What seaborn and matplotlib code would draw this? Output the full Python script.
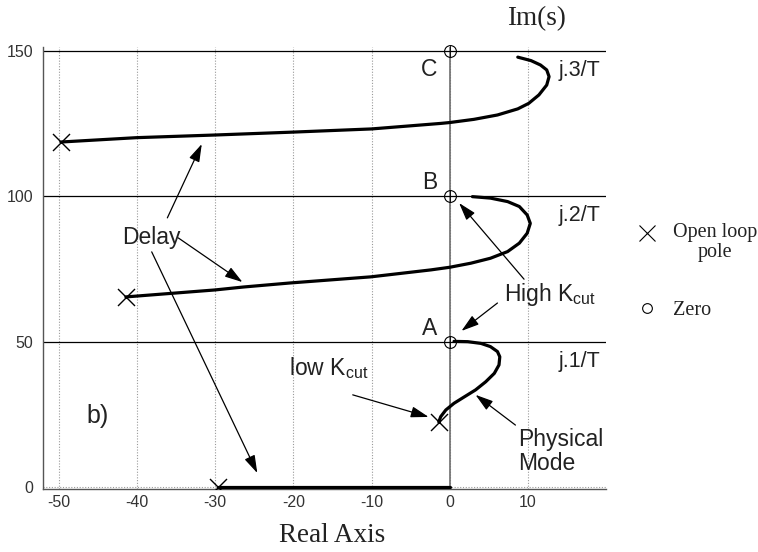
import matplotlib
matplotlib.use("Agg")
import matplotlib.pyplot as plt
import numpy as np
import pandas as pd
import seaborn as sns

# Root-locus branches (real part, imaginary part)
phys_re = [-1.4, -1.15, -0.5, 0.55, 1.8, 3.3, 4.6, 5.7, 6.3, 6.4, 6.1, 5.2, 4.0, 2.3, 0.55]
phys_im = [22.4, 24.2, 26.5, 28.8, 30.9, 33.4, 36.2, 39.1, 42.0, 44.8, 46.6, 48.3, 49.4, 50.0, 50.1]

delay2_re = [-41.4, -30.0, -26.4, -20.4, -10.1, -2.4, 0.0, 2.7, 5.2, 7.4, 8.9, 9.9, 10.3,
             9.9, 8.9, 7.4, 5.2, 2.9]
delay2_im = [65.4, 67.8, 68.8, 70.2, 72.3, 74.7, 75.6, 77.0, 78.7, 81.0, 83.9, 87.3, 90.7,
             93.6, 96.5, 98.2, 99.4, 99.9]

delay3_re = [-49.7, -40.0, -30.1, -20.1, -10.0, -1.15, 0.0, 3.1, 6.1, 8.7, 10.1, 11.4, 12.4,
             12.7, 12.4, 11.6, 10.4, 8.7]
delay3_im = [118.7, 120.2, 121.1, 122.1, 123.2, 125.1, 125.4, 126.5, 128.0, 130.1, 132.0,
             134.9, 138.3, 141.2, 143.5, 145.2, 146.7, 147.9]

delay1_re = [-29.6, 0.0]
delay1_im = [0.0, 0.0]

# Open-loop poles and zeros
pole_re = [-49.7, -41.4, -29.6, -1.4]
pole_im = [118.7, 65.4, 0.0, 22.4]
zero_re = [0.0, 0.0, 0.0]
zero_im = [50.0, 100.0, 150.0]

# Harmonic lines j.n/T
harm_im = [50, 100, 150]
harm_labels = ["j.1/T", "j.2/T", "j.3/T"]
zero_labels = ["A", "B", "C"]

x_ticks = [-50, -40, -30, -20, -10, 0, 10]
y_ticks = [0, 50, 100, 150]

sns.set_theme(style="white")
plt.rcParams["font.family"] = ["Liberation Sans", "DejaVu Sans"]
plt.rcParams["axes.unicode_minus"] = False
plt.rcParams["mathtext.fontset"] = "custom"
plt.rcParams["mathtext.rm"] = "Liberation Sans"
plt.rcParams["mathtext.it"] = "Liberation Sans"
SERIF = ["Liberation Serif", "DejaVu Serif"]

fig = plt.figure(figsize=(7.58, 5.52), dpi=100)
ax = fig.add_axes([0.0567, 0.1141, 0.743, 0.8008])
ax.set_xlim(-52, 20)
ax.set_ylim(-0.7, 151.4)

# grid and reference lines
for xt in x_ticks:
    ax.axvline(xt, color="#9a9a9a", lw=0.8, ls=(0, (1, 1.5)), zorder=0)
ax.axhline(0, color="#9a9a9a", lw=0.8, ls=(0, (1, 1.5)), zorder=0)
ax.axvline(0, color="#6e6e6e", lw=1.2, zorder=1)
for h in harm_im:
    ax.axhline(h, color="black", lw=0.9, zorder=1)

# branches
branches = [(phys_re, phys_im), (delay1_re, delay1_im),
            (delay2_re, delay2_im), (delay3_re, delay3_im)]
for re, im in branches:
    df = pd.DataFrame({"re": re, "im": im})
    sns.lineplot(data=df, x="re", y="im", sort=False, estimator=None,
                 color="black", lw=2.3, ax=ax, zorder=3)
for ln in ax.get_lines():
    ln.set_solid_joinstyle("round")
    ln.set_solid_capstyle("round")

# poles and zeros
sns.scatterplot(x=pole_re, y=pole_im, marker="x", s=150, color="black",
                linewidth=1.0, ax=ax, zorder=4)
ax.plot(zero_re, zero_im, "o", ms=8.5, mfc="none", mec="black", mew=0.8,
        zorder=4, clip_on=False)
for zi in zero_im:
    ax.plot([0], [zi], marker="+", ms=8.5, color="black", mew=0.6, zorder=4,
            clip_on=False)

# axis styling
ax.set_xticks(x_ticks)
ax.set_yticks(y_ticks)
ax.tick_params(axis="both", labelsize=11.5, length=3, width=0.8,
               colors="#333333", pad=4)
ax.tick_params(axis="x", direction="in")
ax.tick_params(axis="y", direction="out")
for s in ["top", "right"]:
    ax.spines[s].set_visible(False)
for s in ["left", "bottom"]:
    ax.spines[s].set_color("#555555")
    ax.spines[s].set_linewidth(1.0)
ax.set_xlabel("")
ax.set_ylabel("")

TXT = dict(fontsize=16.5, color="#222222")

# labels of zeros and harmonics
for h, lab in zip(harm_im, zero_labels):
    yoff = -6.5 if lab == "C" else 4.7
    ax.text(-2.6, h + yoff, lab, ha="center", va="center", **TXT)
for h, lab in zip(harm_im, harm_labels):
    ax.text(16.6, h - 6.7, lab, ha="center", va="center", fontsize=15.5,
            color="#222222")

# annotations
arrow = dict(arrowstyle="-|>,head_length=0.9,head_width=0.28", color="black",
             lw=0.9, shrinkA=0, shrinkB=0)
ax.text(-38.1, 86.0, "Delay", ha="center", va="center", **TXT)
ax.annotate("", xy=(-31.7, 118.0), xytext=(-36.1, 92.6), arrowprops=arrow)
ax.annotate("", xy=(-26.5, 70.5), xytext=(-34.7, 85.7), arrowprops=arrow)
ax.annotate("", xy=(-24.6, 4.8), xytext=(-38.1, 80.9), arrowprops=arrow)

ax.text(6.9, 66.4, r"High K$_{\mathrm{cut}}$", ha="left", va="center", **TXT)
ax.annotate("", xy=(1.2, 97.7), xytext=(9.5, 71.5), arrowprops=arrow)
ax.annotate("", xy=(1.5, 53.7), xytext=(6.1, 63.3), arrowprops=arrow)

ax.text(-20.6, 41.0, r"low K$_{\mathrm{cut}}$", ha="left", va="center", **TXT)
ax.annotate("", xy=(-2.7, 24.1), xytext=(-12.4, 31.7), arrowprops=arrow)

ax.text(8.8, 12.3, "Physical\nMode", ha="left", va="center",
        linespacing=1.05, **TXT)
ax.annotate("", xy=(3.3, 31.7), xytext=(8.4, 21.3), arrowprops=arrow)

ax.text(-45.0, 24.4, "b)", ha="center", va="center", fontsize=18,
        color="#222222")

# axis titles
fig.text(0.7084, 0.967, "Im(s)", ha="center", va="center", fontsize=19.5,
         family=SERIF, color="#222222")
fig.text(0.438, 0.008, "Real Axis", ha="center", va="bottom", fontsize=19.5,
         family=SERIF, color="#222222")

# key
fig.lines.append(plt.Line2D([0.8536], [0.5779], marker="x", ms=12,
                            mew=0.8, color="black", transform=fig.transFigure))
fig.text(0.8879, 0.5779, "Open loop", ha="left", va="center", fontsize=14.5,
         family=SERIF, color="#222222")
fig.text(0.9433, 0.5417, "pole", ha="center", va="center", fontsize=14.5,
         family=SERIF, color="#222222")
fig.lines.append(plt.Line2D([0.8536], [0.442], marker="o", ms=7, mfc="none",
                            mew=0.8, color="black", transform=fig.transFigure))
fig.text(0.8879, 0.4384, "Zero", ha="left", va="center", fontsize=14.5,
         family=SERIF, color="#222222")

fig.savefig("out.png", dpi=100)
